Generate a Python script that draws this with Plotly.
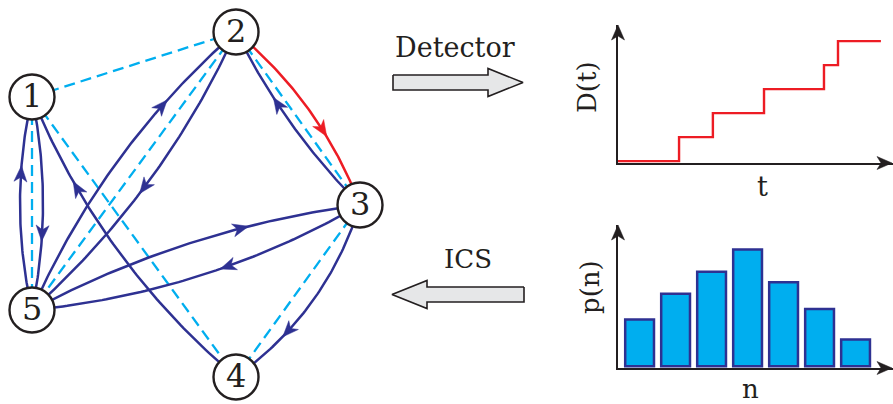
import numpy as np
import plotly.graph_objects as go

# ---------------- data ----------------
# network nodes (pixel layout of the schematic)
node_ids = ["1", "2", "3", "4", "5"]
node_x = [32, 236, 360, 236, 32]
node_y = [97, 32, 205, 377, 310]

# dashed (possible) links
dashed_from = [1, 1, 1, 2, 2, 3]
dashed_to = [2, 5, 4, 5, 3, 4]

# directed transitions (curved)
curve_from = [5, 1, 5, 2, 3, 3, 4, 5, 3, 2]
curve_to = [1, 5, 2, 5, 2, 4, 1, 3, 5, 3]
curve_bulge = [12, 11, 19, 18, 8.5, 17.7, 21, 15.5, 18.5, 14]
curve_arrow_t = [0.64, 0.64, 0.70, 0.52, 0.61, 0.68, 0.71, 0.65, 0.42, 0.61]
curve_detected = [False, False, False, False, False, False, False, False, False, True]

# detector signal D(t)
t_jumps = [0, 2.22, 3.45, 5.31, 7.49, 8.0, 9.56]
D_counts = [0, 1, 2, 3, 4, 5, 5]

# counting statistics p(n)
n_vals = [1, 2, 3, 4, 5, 6, 7]
p_vals = [0.40, 0.62, 0.81, 1.00, 0.72, 0.49, 0.23]

# ---------------- styles ----------------
W, H = 893, 404
NAVY = "#2E3192"
CYAN = "#00AEEF"
RED = "#ED1C24"
INK = "#231F20"
SERIF = "DejaVu Serif"

fig = go.Figure()

pos = {k: (x, y) for k, x, y in zip(node_ids, node_x, node_y)}

# dashed links
for a, b in zip(dashed_from, dashed_to):
    (x0, y0), (x1, y1) = pos[str(a)], pos[str(b)]
    fig.add_trace(go.Scatter(x=[x0, x1], y=[y0, y1], mode="lines",
                             line=dict(color=CYAN, width=2.3, dash="11px,6px"),
                             hoverinfo="skip", showlegend=False))


def arrow_poly(px, py, ux, uy, L=16, Wd=6.5, notch=4.5):
    vx, vy = -uy, ux
    tip = (px + ux * L / 2, py + uy * L / 2)
    back = (px - ux * L / 2, py - uy * L / 2)
    left = (back[0] + vx * Wd, back[1] + vy * Wd)
    right = (back[0] - vx * Wd, back[1] - vy * Wd)
    nt = (back[0] + ux * notch, back[1] + uy * notch)
    pts = [tip, left, nt, right, tip]
    return [p[0] for p in pts], [p[1] for p in pts]


tt = np.linspace(0, 1, 80)
for a, b, bl, ta, det in zip(curve_from, curve_to, curve_bulge, curve_arrow_t, curve_detected):
    A = np.array(pos[str(a)], float)
    B = np.array(pos[str(b)], float)
    d = (B - A) / np.linalg.norm(B - A)
    nrm = np.array([-d[1], d[0]])
    C = (A + B) / 2 - 2 * bl * nrm
    P = ((1 - tt)[:, None] ** 2) * A + (2 * tt * (1 - tt))[:, None] * C + (tt[:, None] ** 2) * B
    col = RED if det else NAVY
    fig.add_trace(go.Scatter(x=P[:, 0], y=P[:, 1], mode="lines",
                             line=dict(color=col, width=2.5),
                             hoverinfo="skip", showlegend=False))
    pt = (1 - ta) ** 2 * A + 2 * ta * (1 - ta) * C + ta ** 2 * B
    dv = 2 * (1 - ta) * (C - A) + 2 * ta * (B - C)
    u = dv / np.linalg.norm(dv)
    ax_, ay_ = arrow_poly(pt[0], pt[1], u[0], u[1])
    fig.add_trace(go.Scatter(x=ax_, y=ay_, mode="lines", fill="toself",
                             fillcolor=col, line=dict(color=col, width=0.5),
                             hoverinfo="skip", showlegend=False))

# nodes
fig.add_trace(go.Scatter(x=node_x, y=node_y, mode="markers",
                         marker=dict(size=45, color="white", line=dict(color=INK, width=2.4)),
                         hoverinfo="skip", showlegend=False))
for k, x, y in zip(node_ids, node_x, node_y):
    fig.add_annotation(x=x, y=y, xref="x", yref="y", text=k, showarrow=False,
                       font=dict(family=SERIF, size=32, color=INK), yshift=1)

# block arrows
def block_arrow(x_tail, x_head_base, x_tip, yc, body_h=15, head_h=28):
    xs = [x_tail, x_head_base, x_head_base, x_tip, x_head_base, x_head_base, x_tail, x_tail]
    ys = [yc - body_h / 2, yc - body_h / 2, yc - head_h / 2, yc, yc + head_h / 2,
          yc + body_h / 2, yc + body_h / 2, yc - body_h / 2]
    fig.add_trace(go.Scatter(x=xs, y=ys, mode="lines", fill="toself", fillcolor="#E6E7E8",
                             line=dict(color=INK, width=1.6), hoverinfo="skip", showlegend=False))

block_arrow(393, 488, 523, 82.5)
block_arrow(524, 427, 392, 294.5)
fig.add_annotation(x=455, y=47, xref="x", yref="y", text="Detector", showarrow=False,
                   font=dict(family=SERIF, size=27, color=INK))
fig.add_annotation(x=468, y=259, xref="x", yref="y", text="ICS", showarrow=False,
                   font=dict(family=SERIF, size=26, color=INK))

# ---------- D(t) panel ----------
fig.add_trace(go.Scatter(x=t_jumps, y=D_counts, mode="lines", line_shape="hv",
                         line=dict(color=RED, width=2.4), xaxis="x2", yaxis="y2",
                         hoverinfo="skip", showlegend=False))
# ---------- p(n) panel ----------
fig.add_trace(go.Bar(x=n_vals, y=p_vals, marker=dict(color=CYAN, line=dict(color=NAVY, width=2.5)),
                     xaxis="x3", yaxis="y3", hoverinfo="skip", showlegend=False))

# axis arrowheads (pixel frame)
ox = 618
for (tx, ty, ux, uy) in [(892, 163, 1, 0), (ox, 25, 0, -1), (892, 368, 1, 0), (ox, 225, 0, -1)]:
    xs, ys = arrow_poly(tx - ux * 7.5, ty - uy * 7.5, ux, uy, L=15, Wd=6.5, notch=4)
    fig.add_trace(go.Scatter(x=xs, y=ys, mode="lines", fill="toself", fillcolor=INK,
                             line=dict(color=INK, width=0.5), hoverinfo="skip", showlegend=False))

fig.add_annotation(x=587, y=87, xref="x", yref="y", text="D(t)", textangle=-90, showarrow=False,
                   font=dict(family=SERIF, size=26, color=INK))
fig.add_annotation(x=762, y=186, xref="x", yref="y", text="t", showarrow=False,
                   font=dict(family=SERIF, size=27, color=INK))
fig.add_annotation(x=590, y=287, xref="x", yref="y", text="p(n)", textangle=-90, showarrow=False,
                   font=dict(family=SERIF, size=26, color=INK))
fig.add_annotation(x=750, y=389, xref="x", yref="y", text="n", showarrow=False,
                   font=dict(family=SERIF, size=26, color=INK))

hidden = dict(visible=False, showgrid=False, zeroline=False, fixedrange=True)
panel = dict(showline=True, linecolor=INK, linewidth=2.2, showgrid=False, zeroline=False,
             showticklabels=False, ticks="", layer="below traces", fixedrange=True)

fig.update_layout(
    width=W, height=H, margin=dict(l=0, r=0, t=0, b=0),
    paper_bgcolor="white", plot_bgcolor="rgba(0,0,0,0)",
    xaxis=dict(range=[0, W], domain=[0, 1], **hidden),
    yaxis=dict(range=[H, 0], domain=[0, 1], **hidden),
    xaxis2=dict(domain=[ox / W, 1.0], range=[0, 10], anchor="y2", **panel),
    yaxis2=dict(domain=[(H - 163) / H, (H - 25) / H], range=[-0.08, 5.67], anchor="x2", **panel),
    xaxis3=dict(domain=[ox / W, 1.0], range=[0.40, 8.04], anchor="y3", **panel),
    yaxis3=dict(domain=[(H - 368) / H, (H - 225) / H], range=[-0.015, 1.21], anchor="x3", **panel),
    bargap=0.2,
)

fig.write_html("out.html", config={"displayModeBar": False},
               post_script="document.body.style.margin='0';document.body.style.overflow='hidden';")
